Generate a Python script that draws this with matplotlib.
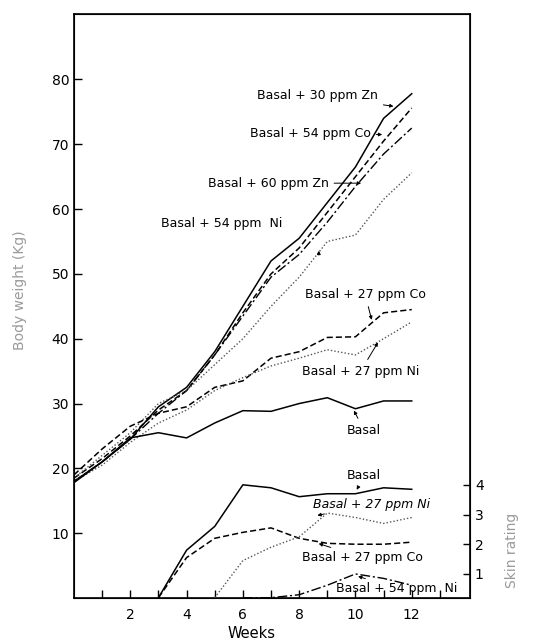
import numpy as np
import matplotlib
matplotlib.use('Agg')
import matplotlib.pyplot as plt

# weeks on the x axis
weeks = [0, 1, 2, 3, 4, 5, 6, 7, 8, 9, 10, 11, 12]

# body weight (kg)
wt_zn30 = [18.0, 21.0, 24.5, 29.5, 32.5, 38.0, 45.0, 52.0, 55.5, 61.0, 66.5, 74.0, 77.8]
wt_co54 = [18.5, 21.5, 25.0, 29.0, 32.0, 37.5, 44.0, 50.0, 54.0, 59.5, 65.0, 70.5, 75.6]
wt_zn60 = [18.0, 21.0, 24.5, 28.5, 32.0, 37.5, 43.5, 49.5, 53.0, 58.0, 63.5, 68.5, 72.5]
wt_ni54 = [18.5, 22.0, 25.5, 30.0, 32.0, 36.0, 40.0, 45.0, 49.5, 55.0, 56.0, 61.5, 65.6]
wt_co27 = [19.0, 23.0, 26.5, 28.5, 29.5, 32.5, 33.5, 37.0, 38.0, 40.2, 40.3, 44.0, 44.5]
wt_ni27 = [18.0, 20.5, 24.0, 27.0, 29.0, 32.0, 34.0, 35.8, 37.0, 38.3, 37.5, 40.0, 42.6]
wt_basal = [17.8, 21.0, 24.7, 25.5, 24.7, 27.0, 28.9, 28.8, 30.0, 30.9, 29.2, 30.4, 30.4]

# skin rating
sk_basal_wk = [3, 4, 5, 6, 7, 8, 9, 10, 11, 12]
sk_basal = [0.2, 1.8, 2.6, 4.0, 3.9, 3.6, 3.7, 3.7, 3.9, 3.85]
sk_co27_wk = [3, 4, 5, 6, 7, 8, 9, 10, 11, 12]
sk_co27 = [0.2, 1.55, 2.2, 2.4, 2.55, 2.2, 2.03, 2.0, 2.0, 2.07]
sk_ni27_wk = [5, 6, 7, 8, 9, 10, 11, 12]
sk_ni27 = [0.2, 1.45, 1.9, 2.25, 3.05, 2.9, 2.7, 2.9]
sk_ni54_wk = [6, 7, 8, 9, 10, 11, 12]
sk_ni54 = [0.2, 0.2, 0.3, 0.62, 1.0, 0.85, 0.62]

W, H = 536, 644
fig = plt.figure(figsize=(W / 100, H / 100), dpi=100)
ax = fig.add_axes([74 / W, 1 - 598 / H, (470 - 74) / W, (598 - 14) / H])

solid = dict(color='black', lw=1.1, ls='-')
dashed = dict(color='black', lw=1.1, dashes=(4, 2))
dashdot = dict(color='black', lw=1.0, dashes=(7, 2, 1.5, 2))
dotted = dict(color='#555555', lw=1.0, dashes=(1, 1.5))

ax.plot(weeks, wt_zn30, **solid)
ax.plot(weeks, wt_co54, **dashed)
ax.plot(weeks, wt_zn60, **dashdot)
ax.plot(weeks, wt_ni54, **dotted)
ax.plot(weeks, wt_co27, **dashed)
ax.plot(weeks, wt_ni27, **dotted)
ax.plot(weeks, wt_basal, **solid)

ax.set_xlim(0, 14.07)
ax.set_ylim(0, 90.1)
ax.set_xticks(range(1, 14))
ax.set_xticklabels([str(w) if w % 2 == 0 and w <= 12 else '' for w in range(1, 14)])
ax.set_yticks(range(10, 90, 10))
ax.tick_params(direction='in', length=6, width=1, labelsize=10)
ax.tick_params(axis='x', pad=7)
for s in ax.spines.values():
    s.set_linewidth(1.2)

ax2 = ax.twinx()
ax2.plot(sk_basal_wk, sk_basal, **solid)
ax2.plot(sk_co27_wk, sk_co27, **dashed)
ax2.plot(sk_ni27_wk, sk_ni27, **dotted)
ax2.plot(sk_ni54_wk, sk_ni54, **dashdot)
ax2.set_ylim(0.19, 19.85)
ax2.set_yticks([1, 2, 3, 4])
ax2.tick_params(direction='in', length=5, width=1, labelsize=10)

# data coords helper: annotate in pixel-free way using data coordinates
fs = 9
ann = dict(fontsize=fs, color='black')
arr = dict(arrowstyle='-|>', lw=0.7, color='black', mutation_scale=5)

ax.annotate('Basal + 30 ppm Zn', xy=(11.45, 75.8), xytext=(6.5, 77.5),
            arrowprops=arr, ha='left', va='center', **ann)
ax.annotate('Basal + 54 ppm Co', xy=(11.05, 71.5), xytext=(6.25, 71.6),
            arrowprops=arr, ha='left', va='center', **ann)
ax.annotate('Basal + 60 ppm Zn', xy=(10.3, 64.0), xytext=(4.75, 64.0),
            arrowprops=arr, ha='left', va='center', **ann)
ax.text(3.1, 57.8, 'Basal + 54 ppm  Ni', ha='left', va='center', **ann)
ax.annotate('', xy=(8.7, 54.0), xytext=(8.7, 52.5), arrowprops=arr)
ax.annotate('Basal + 27 ppm Co', xy=(10.6, 42.5), xytext=(8.2, 46.8),
            arrowprops=arr, ha='left', va='center', **ann)
ax.annotate('Basal + 27 ppm Ni', xy=(10.85, 39.8), xytext=(8.1, 35.0),
            arrowprops=arr, ha='left', va='center', **ann)
ax.annotate('Basal', xy=(9.9, 29.3), xytext=(9.7, 25.9),
            arrowprops=arr, ha='left', va='center', **ann)

ax2.annotate('Basal', xy=(10.0, 3.75), xytext=(9.7, 4.3),
             arrowprops=arr, ha='left', va='center', **ann)
ax2.annotate('Basal + 27 ppm Ni', xy=(8.55, 2.95), xytext=(8.5, 3.35),
             arrowprops=arr, ha='left', va='center', style='italic', **ann)
ax2.annotate('Basal + 27 ppm Co', xy=(8.6, 2.05), xytext=(8.1, 1.55),
             arrowprops=arr, ha='left', va='center', **ann)
ax2.annotate('Basal + 54 ppm  Ni', xy=(10.0, 0.95), xytext=(9.3, 0.5),
             arrowprops=arr, ha='left', va='center', **ann)

fig.text(20 / W, 1 - 290 / H, 'Body weight (Kg)', rotation=90, ha='center',
         va='center', fontsize=10, color='#9a9a9a')
fig.text(512 / W, 1 - 550 / H, 'Skin rating', rotation=90, ha='center',
         va='center', fontsize=10, color='#9a9a9a')
fig.text(252 / W, 1 - 634 / H, 'Weeks', ha='center', va='center', fontsize=10.5)

fig.savefig('out.png', dpi=100)
